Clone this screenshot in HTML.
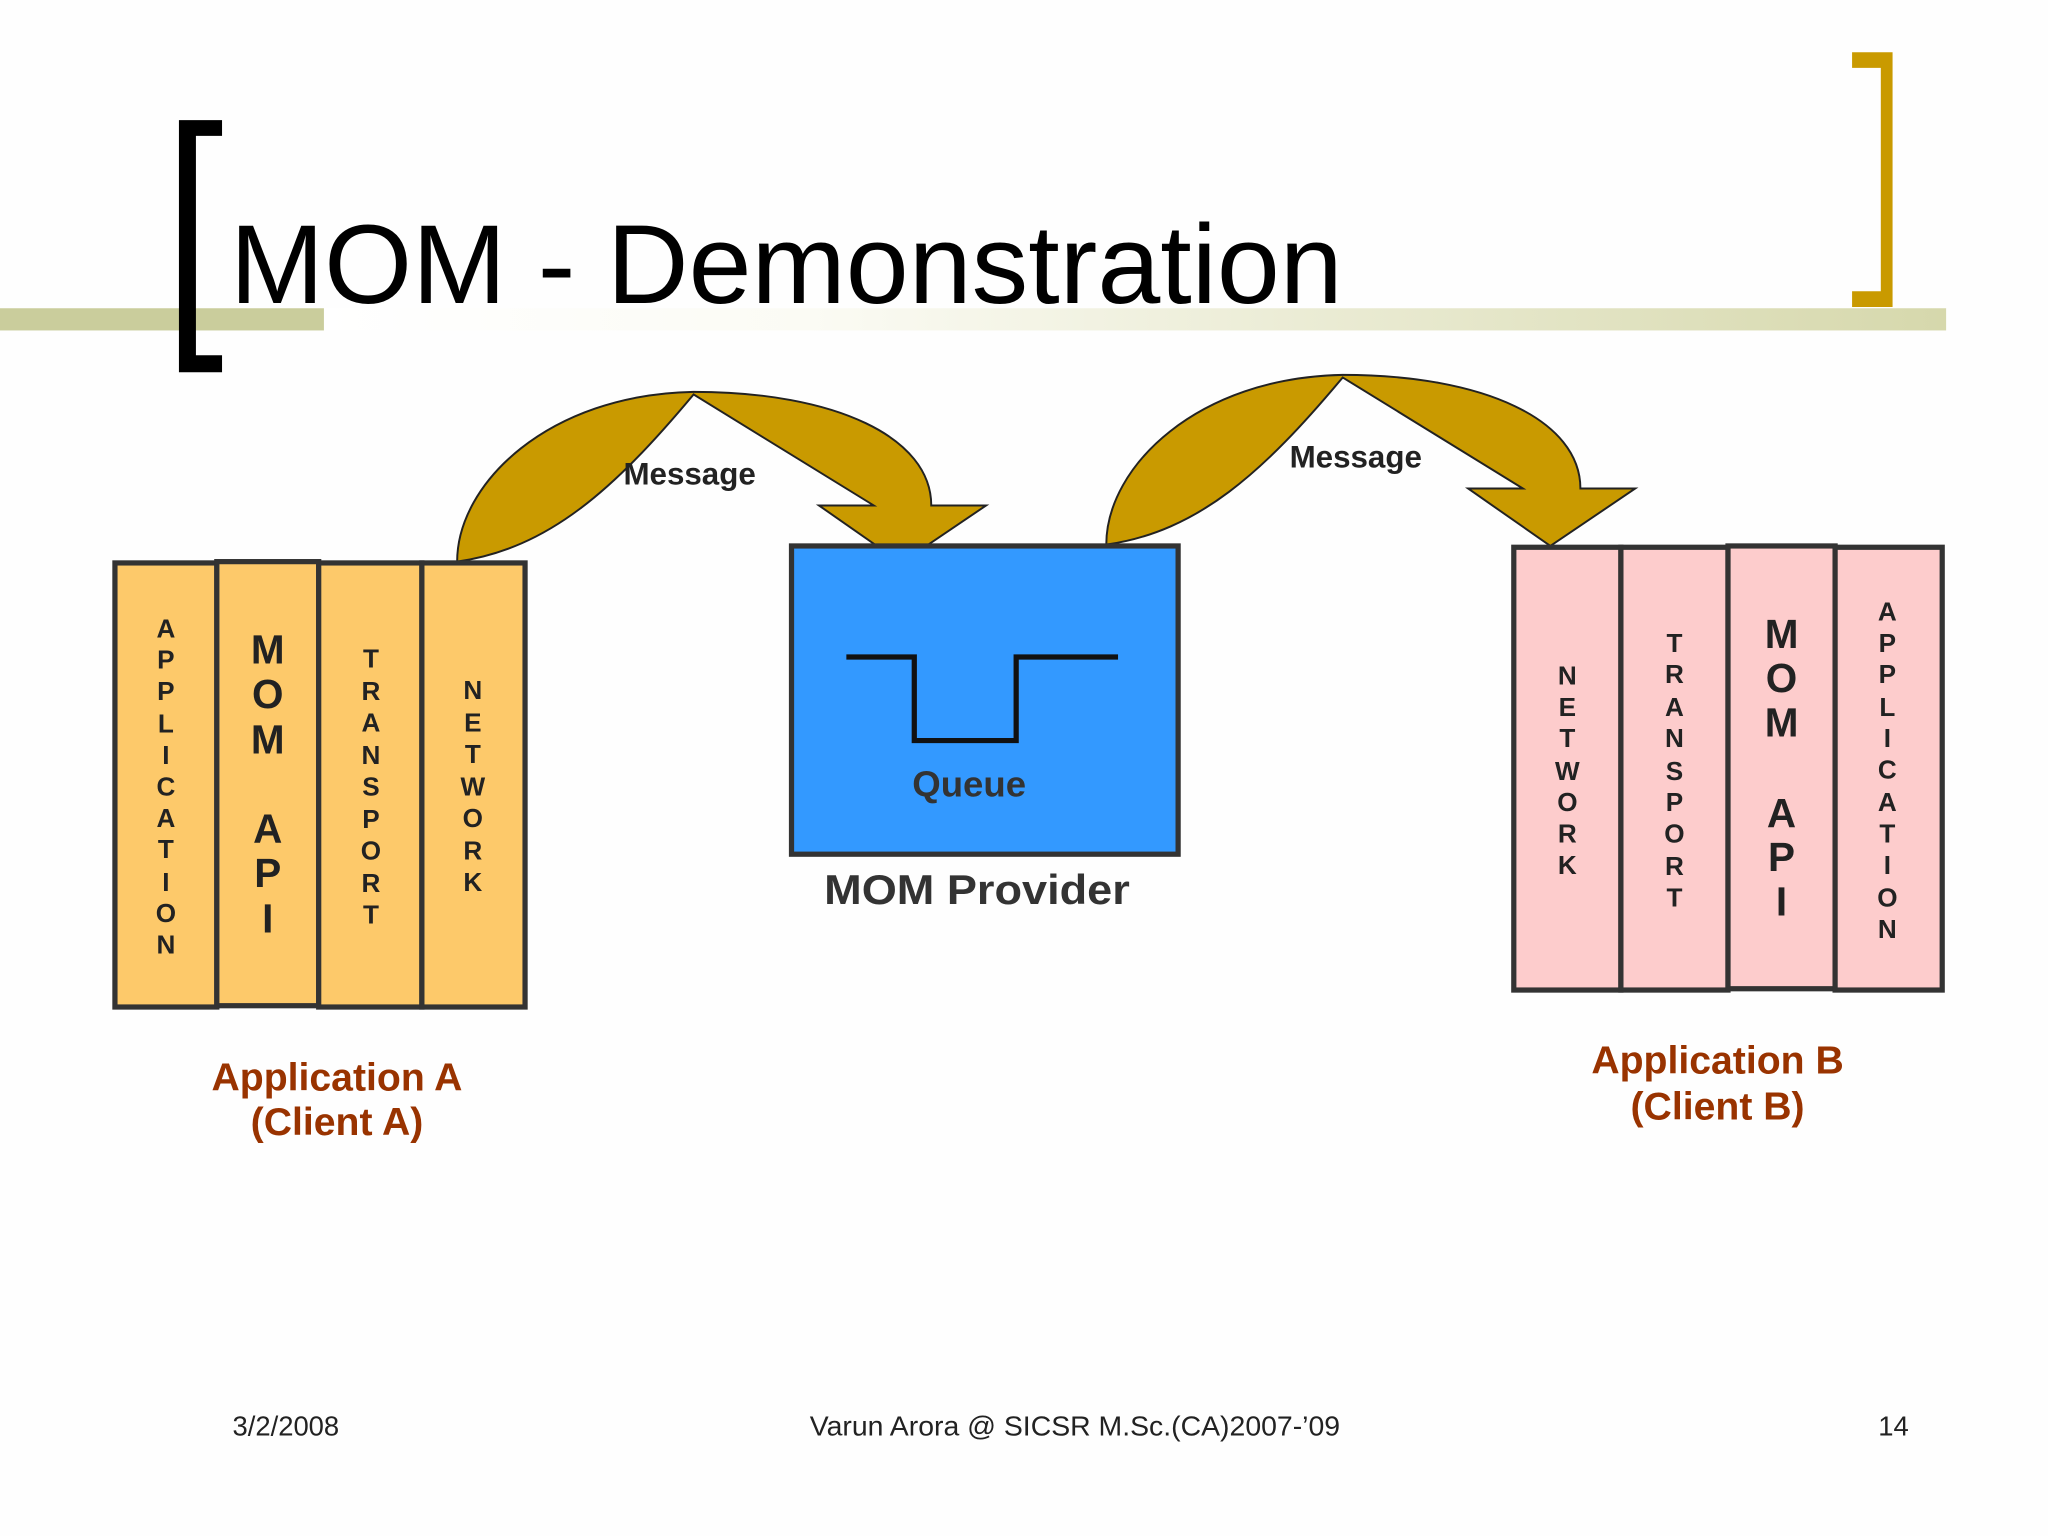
<!DOCTYPE html>
<html><head><meta charset="utf-8"><style>html,body{margin:0;padding:0;background:#fff}svg{display:block}</style></head>
<body>
<svg width="2048" height="1536" viewBox="0 0 1568 1176" preserveAspectRatio="none" xmlns="http://www.w3.org/2000/svg" font-family="Liberation Sans, Arial, sans-serif">
<defs>
<linearGradient id="g" x1="0" x2="1" y1="0" y2="0">
<stop offset="0" stop-color="#ffffff"/><stop offset="0.3" stop-color="#fbfbf4"/><stop offset="1" stop-color="#d6d8ac"/>
</linearGradient>
<g id="arrow">
<path d="M350,430 C350,370 420,302 531,300 C640,300 713,335 713,387 L755,387 L690,431 L627,387 L669,387 L531,302 C470,375 420,420 350,430 Z" fill="#c99a00" stroke="#222" stroke-width="1.5" stroke-linejoin="miter"/>
</g>
</defs>
<rect width="1568" height="1176" fill="#fefefe"/>
<rect x="248" y="236" width="1242" height="17" fill="url(#g)"/>
<rect x="0" y="236" width="248" height="17" fill="#cacd9c"/>
<path d="M137,92 H170 V104 H150 V272 H170 V285 H137 Z" fill="#000"/>
<path d="M1418,40 H1449 V235 H1418 V223 H1440 V52 H1418 Z" fill="#c99a00"/>
<text x="176" y="232" font-size="86" textLength="852" lengthAdjust="spacingAndGlyphs" fill="#000">MOM - Demonstration</text>

<use href="#arrow"/>
<use href="#arrow" transform="translate(497,-13)"/>
<text x="528" y="371" font-size="24" font-weight="bold" text-anchor="middle" fill="#222">Message</text>
<text x="1038" y="358" font-size="24" font-weight="bold" text-anchor="middle" fill="#222">Message</text>

<g fill="#fdc96a" stroke="#333" stroke-width="4">
<rect x="88" y="431" width="78" height="340"/>
<rect x="166" y="430" width="78" height="340"/>
<rect x="244" y="431" width="79" height="340"/>
<rect x="323" y="431" width="79" height="340"/>
</g>
<g fill="#fdcccc" stroke="#333" stroke-width="4">
<rect x="1159" y="419" width="82" height="339"/>
<rect x="1241" y="419" width="82" height="339"/>
<rect x="1323" y="418" width="82" height="339"/>
<rect x="1405" y="419" width="82" height="339"/>
</g>
<rect x="606" y="418" width="296" height="236" fill="#3399ff" stroke="#333" stroke-width="4"/>
<path d="M648,503 H700 V567 H778 V503 H856" fill="none" stroke="#111" stroke-width="4"/>
<text x="742" y="610" font-size="28" font-weight="bold" text-anchor="middle" fill="#333">Queue</text>
<text x="748" y="692" font-size="32" font-weight="bold" text-anchor="middle" fill="#333" textLength="234" lengthAdjust="spacingAndGlyphs">MOM Provider</text>

<g font-size="20" font-weight="bold" fill="#222" text-anchor="middle">
<text x="127" y="488">A</text><text x="127" y="512">P</text><text x="127" y="536">P</text><text x="127" y="561">L</text><text x="127" y="585">I</text><text x="127" y="609">C</text><text x="127" y="633">A</text><text x="127" y="657">T</text><text x="127" y="682">I</text><text x="127" y="706">O</text><text x="127" y="730">N</text>
<text x="284" y="511">T</text><text x="284" y="536">R</text><text x="284" y="560">A</text><text x="284" y="585">N</text><text x="284" y="609">S</text><text x="284" y="634">P</text><text x="284" y="658">O</text><text x="284" y="683">R</text><text x="284" y="707">T</text>
<text x="362" y="535">N</text><text x="362" y="560">E</text><text x="362" y="584">T</text><text x="362" y="609">W</text><text x="362" y="633">O</text><text x="362" y="658">R</text><text x="362" y="682">K</text>
<text x="1200" y="524">N</text><text x="1200" y="548">E</text><text x="1200" y="572">T</text><text x="1200" y="597">W</text><text x="1200" y="621">O</text><text x="1200" y="645">R</text><text x="1200" y="669">K</text>
<text x="1282" y="499">T</text><text x="1282" y="523">R</text><text x="1282" y="548">A</text><text x="1282" y="572">N</text><text x="1282" y="597">S</text><text x="1282" y="621">P</text><text x="1282" y="645">O</text><text x="1282" y="670">R</text><text x="1282" y="694">T</text>
<text x="1445" y="475">A</text><text x="1445" y="499">P</text><text x="1445" y="523">P</text><text x="1445" y="548">L</text><text x="1445" y="572">I</text><text x="1445" y="596">C</text><text x="1445" y="621">A</text><text x="1445" y="645">T</text><text x="1445" y="669">I</text><text x="1445" y="694">O</text><text x="1445" y="718">N</text>
</g>
<g font-size="31" font-weight="bold" fill="#222" text-anchor="middle">
<text x="205" y="508">M</text><text x="205" y="542">O</text><text x="205" y="577">M</text><text x="205" y="645">A</text><text x="205" y="679">P</text><text x="205" y="714">I</text>
<text x="1364" y="496">M</text><text x="1364" y="530">O</text><text x="1364" y="564">M</text><text x="1364" y="633">A</text><text x="1364" y="667">P</text><text x="1364" y="701">I</text>
</g>

<g font-size="30" font-weight="bold" fill="#993300" text-anchor="middle">
<text x="258" y="835">Application A</text>
<text x="258" y="869">(Client A)</text>
<text x="1315" y="822">Application B</text>
<text x="1315" y="857">(Client B)</text>
</g>

<g font-size="21" fill="#222">
<text x="178" y="1099">3/2/2008</text>
<text x="823" y="1099" text-anchor="middle" textLength="406" lengthAdjust="spacingAndGlyphs">Varun Arora @ SICSR  M.Sc.(CA)2007-’09</text>
<text x="1438" y="1099">14</text>
</g>
</svg>
</body></html>
